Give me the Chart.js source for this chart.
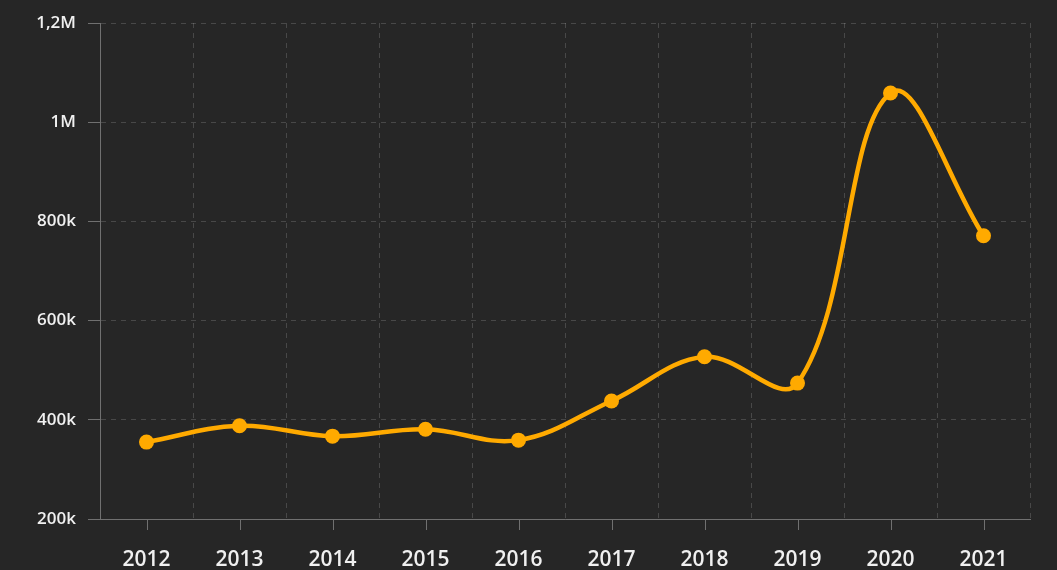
<!DOCTYPE html>
<html>
<head>
<meta charset="utf-8">
<script src="https://cdn.jsdelivr.net/npm/chart.js@4.4.1/dist/chart.umd.min.js"></script>
<style>
  html, body { margin: 0; padding: 0; background: #262626; }
  #wrap { width: 1057px; height: 570px; }
</style>
</head>
<body>
<div id="wrap"><canvas id="yearChart"></canvas></div>
<script>
// data
const years = ['2012', '2013', '2014', '2015', '2016', '2017', '2018', '2019', '2020', '2021'];
const totals = [355000, 388000, 367000, 381000, 359000, 438000, 527000, 474000, 1059000, 771000];
const yTicks = [200000, 400000, 600000, 800000, 1000000, 1200000];
const yTickLabels = ['200k', '400k', '600k', '800k', '1M', '1,2M'];

const gridColor = 'rgba(255, 255, 255, 0.16)';
const axisColor = '#707070';

// tick marks under the x axis sit on the categories, grid lines between them
const xTickMarks = {
  id: 'xTickMarks',
  afterDraw(chart) {
    const x = chart.scales.x;
    const ctx = chart.ctx;
    ctx.save();
    ctx.strokeStyle = axisColor;
    ctx.lineWidth = 1;
    years.forEach((_, i) => {
      const px = Math.round(x.getPixelForValue(i)) + 0.5;
      ctx.beginPath();
      ctx.moveTo(px, x.top);
      ctx.lineTo(px, x.top + 11);
      ctx.stroke();
    });
    ctx.restore();
  }
};

Chart.defaults.font.family = "'Open Sans', 'DejaVu Sans', sans-serif";
Chart.defaults.color = '#f0f0f0';

new Chart(document.getElementById('yearChart'), {
  type: 'line',
  data: {
    labels: years,
    datasets: [{
      data: totals,
      borderColor: '#ffaa00',
      backgroundColor: '#ffaa00',
      borderWidth: 4.5,
      tension: 0.38,
      pointRadius: 7.5,
      pointHoverRadius: 7.5,
      pointBorderWidth: 0
    }]
  },
  options: {
    responsive: true,
    maintainAspectRatio: false,
    animation: false,
    layout: { padding: { top: 23, right: 27, left: 0, bottom: 0 } },
    plugins: {
      legend: { display: false },
      tooltip: { enabled: false }
    },
    scales: {
      x: {
        offset: true,
        grid: {
          offset: true,
          color: gridColor,
          drawTicks: false
        },
        border: { color: axisColor, dash: [5, 5] },
        ticks: { padding: 28, font: { size: 21, weight: 600 }, color: '#f0f0f0' },
        afterFit(s) { s.height = 51; }
      },
      y: {
        min: 200000,
        max: 1200000,
        afterBuildTicks(s) { s.ticks = yTicks.map(v => ({ value: v })); },
        grid: {
          color: gridColor,
          tickColor: axisColor,
          tickLength: 12,
          tickBorderDash: []
        },
        border: { color: axisColor, dash: [5, 5] },
        ticks: {
          padding: 12,
          font: { size: 17, weight: 600 },
          color: '#f0f0f0',
          callback(v) {
            const i = yTicks.indexOf(v);
            return i >= 0 ? yTickLabels[i] : '';
          }
        },
        afterFit(s) { s.width = 100; }
      }
    }
  },
  plugins: [xTickMarks]
});
</script>
</body>
</html>
